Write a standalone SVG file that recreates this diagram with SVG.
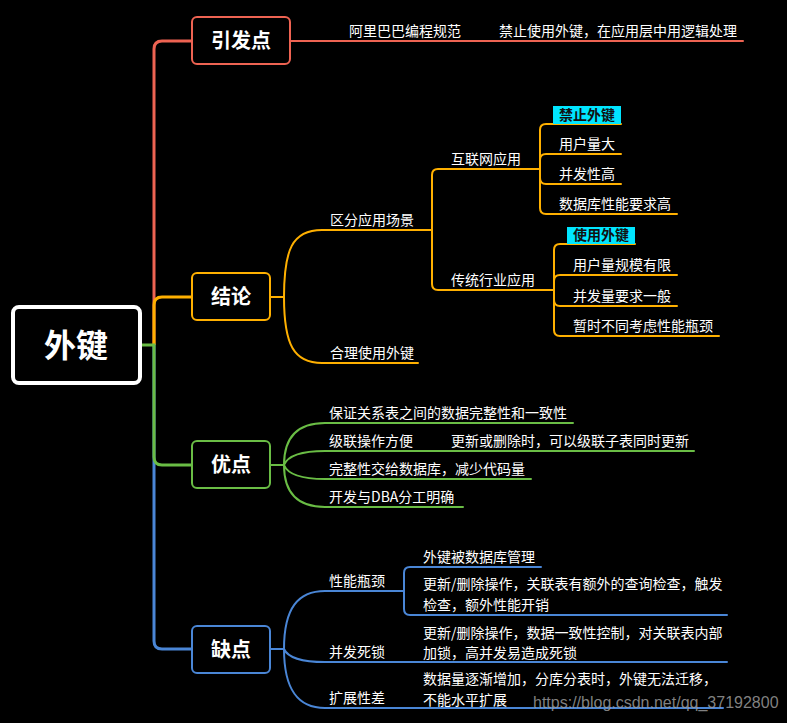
<svg xmlns="http://www.w3.org/2000/svg" width="787" height="723" viewBox="0 0 787 723">
<style>
text{font-family:"Noto Sans CJK SC","Microsoft YaHei","Liberation Sans",sans-serif;fill:#fff}
.t{font-size:14px}
.hb{font-size:20px;font-weight:bold}
.tag{font-size:14px;font-weight:bold;fill:#111}
.ln{fill:none;stroke-width:2;stroke-linecap:round}
.trunk{fill:none;stroke-width:3}
.r{stroke:#EE6352}.o{stroke:#FFB000}.g{stroke:#6ABD45}.b{stroke:#4A86D6}
.box{fill:#000;stroke-width:2}
</style>
<rect width="787" height="723" fill="#000"/>
<g id="connectors">
<path class="trunk r" d="M154 345 V49 Q154 41 162 41 H192"/>
<path class="trunk o" d="M154 345 V305 Q154 297 162 297 H192"/>
<path class="trunk b" d="M154 345 V641 Q154 649 162 649 H192"/>
<path class="trunk g" d="M140 345 H154 V457 Q154 465 162 465 H192"/>
<path class="ln r" d="M290 41 H743"/>
<path class="ln o" d="M270 297 H284 C284 250 292 230 322 230 H432"/>
<path class="ln o" d="M284 297 C284 345 294 363 322 363 H418"/>
<path class="ln o" d="M432 230 V175 Q432 169 438 169 H540"/>
<path class="ln o" d="M432 230 V284 Q432 290 438 290 H554"/>
<path class="ln o" d="M540 169 V130 Q540 124 546 124 H621"/>
<path class="ln o" d="M540 169 V160 Q540 154 546 154 H621"/>
<path class="ln o" d="M540 169 V178 Q540 184 546 184 H621"/>
<path class="ln o" d="M540 169 V208 Q540 214 546 214 H677"/>
<path class="ln o" d="M554 290 V250 Q554 244 560 244 H635"/>
<path class="ln o" d="M554 290 V281 Q554 275 560 275 H677"/>
<path class="ln o" d="M554 290 V300 Q554 306 560 306 H677"/>
<path class="ln o" d="M554 290 V330 Q554 336 560 336 H719"/>
<path class="ln g" d="M270 465 H284 C284 437 298 423 325 423 H573"/>
<path class="ln g" d="M284 465 C288 455 302 451 325 451 H694"/>
<path class="ln g" d="M284 465 C288 475 302 479 325 479 H531"/>
<path class="ln g" d="M284 465 C284 493 298 507 325 507 H463"/>
<path class="ln b" d="M270 649 H284 C284 608 298 591 325 591 H404"/>
<path class="ln b" d="M284 649 C288 658 302 662 325 662 H727"/>
<path class="ln b" d="M284 649 C284 690 298 708 325 708 H723"/>
<path class="ln b" d="M404 591 V573 Q404 567 410 567 H541"/>
<path class="ln b" d="M404 591 V609 Q404 615 410 615 H727"/>
</g>
<g id="root">
<rect x="13" y="307" width="127" height="76" rx="6" fill="#000" stroke="#fff" stroke-width="4"/>
<text x="76" y="357" text-anchor="middle" style="font-size:32px;font-weight:bold">外键</text>
</g>
<g id="n-yinfadian">
<rect class="box r" x="192" y="17" width="98" height="47" rx="5"/>
<text class="hb" x="241" y="48" text-anchor="middle">引发点</text>
</g>
<g id="n-jielun">
<rect class="box o" x="192" y="273" width="78" height="47" rx="5"/>
<text class="hb" x="231" y="304" text-anchor="middle">结论</text>
</g>
<g id="n-youdian">
<rect class="box g" x="192" y="441" width="78" height="47" rx="5"/>
<text class="hb" x="231" y="472" text-anchor="middle">优点</text>
</g>
<g id="n-quedian">
<rect class="box b" x="192" y="626" width="78" height="47" rx="5"/>
<text class="hb" x="231" y="657" text-anchor="middle">缺点</text>
</g>
<g id="n-ali"><text class="t" x="349" y="36">阿里巴巴编程规范</text></g>
<g id="n-jinzhi"><text class="t" x="499" y="36">禁止使用外键，在应用层中用逻辑处理</text></g>
<g id="n-qufen"><text class="t" x="330" y="225">区分应用场景</text></g>
<g id="n-heli"><text class="t" x="330" y="358">合理使用外键</text></g>
<g id="n-hulianwang"><text class="t" x="451" y="164">互联网应用</text></g>
<g id="n-chuantong"><text class="t" x="451" y="285">传统行业应用</text></g>
<g id="n-jinzhiwaijian">
<rect x="553" y="106" width="68" height="18" fill="#00E5FF"/>
<text class="tag" x="559" y="120">禁止外键</text>
</g>
<g id="n-yonghuliangda"><text class="t" x="559" y="149">用户量大</text></g>
<g id="n-bingfaxinggao"><text class="t" x="559" y="179">并发性高</text></g>
<g id="n-shujuku"><text class="t" x="559" y="209">数据库性能要求高</text></g>
<g id="n-shiyongwaijian">
<rect x="567" y="227" width="68" height="17" fill="#00E5FF"/>
<text class="tag" x="573" y="240">使用外键</text>
</g>
<g id="n-guimo"><text class="t" x="573" y="270">用户量规模有限</text></g>
<g id="n-yiban"><text class="t" x="573" y="301">并发量要求一般</text></g>
<g id="n-zanshi"><text class="t" x="573" y="331">暂时不同考虑性能瓶颈</text></g>
<g id="n-baozheng"><text class="t" x="329" y="418">保证关系表之间的数据完整性和一致性</text></g>
<g id="n-jilian"><text class="t" x="329" y="446">级联操作方便</text></g>
<g id="n-gengxin"><text class="t" x="451" y="446">更新或删除时，可以级联子表同时更新</text></g>
<g id="n-wanzheng"><text class="t" x="329" y="474">完整性交给数据库，减少代码量</text></g>
<g id="n-kaifa"><text class="t" x="329" y="502">开发与DBA分工明确</text></g>
<g id="n-xingneng"><text class="t" x="329" y="586">性能瓶颈</text></g>
<g id="n-bingfa"><text class="t" x="329" y="657">并发死锁</text></g>
<g id="n-kuozhan"><text class="t" x="329" y="703">扩展性差</text></g>
<g id="n-guanli"><text class="t" x="423" y="562">外键被数据库管理</text></g>
<g id="n-ewai"><text class="t" x="423" y="589">更新/删除操作，关联表有额外的查询检查，触发<tspan x="423" dy="20.5">检查，额外性能开销</tspan></text></g>
<g id="n-sisuo"><text class="t" x="423" y="637.5">更新/删除操作，数据一致性控制，对关联表内部<tspan x="423" dy="20.5">加锁，高并发易造成死锁</tspan></text></g>
<g id="n-qianyi"><text class="t" x="423" y="684">数据量逐渐增加，分库分表时，外键无法迁移，<tspan x="423" dy="20.5">不能水平扩展</tspan></text></g>
<text x="533" y="708" style="font-family:'Liberation Sans',Arial,sans-serif;font-size:16px;fill:#9a9a9a;fill-opacity:0.85">https://blog.csdn.net/qq_37192800</text>
</svg>
